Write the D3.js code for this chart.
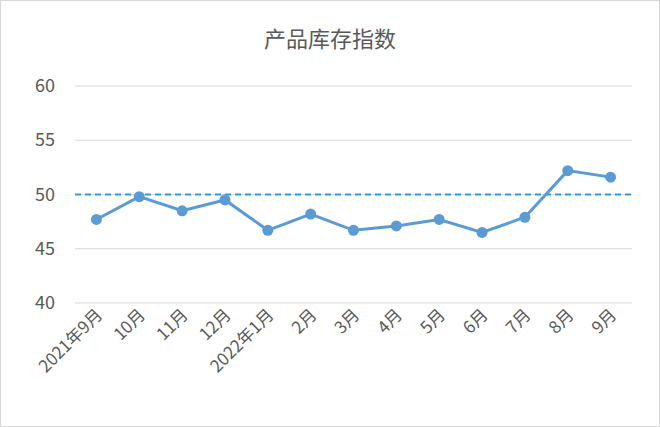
<!DOCTYPE html>
<html><head><meta charset="utf-8">
<script src="https://cdn.jsdelivr.net/npm/d3@7"></script>
<style>body{margin:0;background:#fff}svg{font-family:"Noto Sans CJK SC","Noto Sans",sans-serif}</style>
</head><body><svg id="c" width="660" height="427"></svg>
<script>
const categories=["2021年9月","10月","11月","12月","2022年1月","2月","3月","4月","5月","6月","7月","8月","9月"];
const values=[47.7,49.8,48.5,49.5,46.7,48.2,46.7,47.1,47.7,46.5,47.9,52.2,51.6];
const yTicks=[40,45,50,55,60];
const refValue=50;
const svg=d3.select("#c");
svg.append("rect").attr("x",0.5).attr("y",0.5).attr("width",659).attr("height",426).attr("fill","#fff").attr("stroke","#d9d9d9");
svg.append("text").attr("x",330).attr("y",47).attr("text-anchor","middle").attr("font-size",22).attr("fill","#595959").text("产品库存指数");
const x=d3.scaleBand().domain(categories).range([75,632]);
const y=d3.scaleLinear().domain([40,60]).range([303,86]);
const g=svg.append("g");
yTicks.forEach(t=>{
 g.append("line").attr("x1",75).attr("x2",632).attr("y1",y(t)).attr("y2",y(t)).attr("stroke","#d9d9d9");
 g.append("text").attr("x",55).attr("y",y(t)+6).attr("text-anchor","end").attr("font-size",18).attr("fill","#595959").text(t);
});
g.append("line").attr("x1",75).attr("x2",632).attr("y1",y(refValue)).attr("y2",y(refValue)).attr("stroke","#2e9be6").attr("stroke-width",2).attr("stroke-dasharray","6,4");
categories.forEach(c=>{
 const cx=x(c)+x.bandwidth()/2;
 g.append("text").attr("transform",`translate(${cx+7},${316}) rotate(-45)`).attr("text-anchor","end").attr("font-size",17).attr("fill","#595959").text(c);
});
const line=d3.line().x((d,i)=>x(categories[i])+x.bandwidth()/2).y(d=>y(d));
g.append("path").attr("d",line(values)).attr("fill","none").attr("stroke","#5b9bd5").attr("stroke-width",3);
g.selectAll("circle.p").data(values).enter().append("circle").attr("cx",(d,i)=>x(categories[i])+x.bandwidth()/2).attr("cy",d=>y(d)).attr("r",5.5).attr("fill","#5b9bd5");
</script></body></html>
